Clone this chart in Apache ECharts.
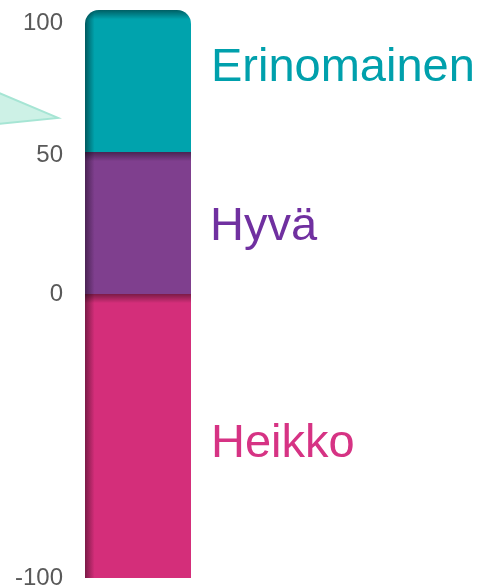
<!DOCTYPE html>
<html>
<head>
<meta charset="utf-8">
<script src="https://cdn.jsdelivr.net/npm/echarts@6/dist/echarts.min.js"></script>
<style>
html,body{margin:0;padding:0;background:#fff;}
#c{width:482px;height:586px;}
</style>
</head>
<body>
<div id="c"></div>
<script>
// ---- data ----
var categories = ['Arvio'];
var seriesNames = ['Heikko', 'Hyvä', 'Erinomainen'];
var heikko = [-100];
var hyva = [50];
var erinomainen = [50];
var tickLabels = [-100, 0, 50, 100];
var calloutValue = 62;

// ---- styles ----
var baseColors = ['#d42e7a', '#7f3f8e', '#00a3ad'];
var darkColors = ['#7a1a46', '#4a2354', '#00595e'];
var textColors = ['#d63384', '#7030a0', '#00a0ac'];
var values = [heikko, hyva, erinomainen];

function hGrad(i) {
  return new echarts.graphic.LinearGradient(0, 0, 1, 0, [
    {offset: 0, color: darkColors[i]},
    {offset: 0.09, color: baseColors[i]},
    {offset: 1, color: baseColors[i]}
  ]);
}
function vShade(frac) {
  return new echarts.graphic.LinearGradient(0, 0, 0, 1, [
    {offset: 0, color: 'rgba(0,0,0,0.42)'},
    {offset: frac, color: 'rgba(0,0,0,0)'},
    {offset: 1, color: 'rgba(0,0,0,0)'}
  ]);
}
var shadeFrac = [0.032, 0.065, 0.065];
var labelOffsets = [[1, 8], [0, 4], [1, -13]];
var radii = [[0,0,0,0], [0,0,0,0], [14,14,0,0]];

var series = [];
seriesNames.forEach(function (name, i) {
  series.push({
    name: name,
    type: 'bar',
    stack: 'main',
    barWidth: '100%',
    data: values[i],
    itemStyle: {color: hGrad(i), borderRadius: radii[i]},
    label: {
      show: true,
      position: 'right',
      distance: 19,
      offset: labelOffsets[i],
      formatter: name,
      color: textColors[i],
      fontSize: 47,
      fontFamily: 'Liberation Sans, Arial, sans-serif'
    },
    emphasis: {disabled: true},
    z: 2
  });
});
seriesNames.forEach(function (name, i) {
  series.push({
    name: name + '_shade',
    type: 'bar',
    stack: 'shade',
    barWidth: '100%',
    barGap: '-100%',
    data: values[i],
    silent: true,
    itemStyle: {color: vShade(shadeFrac[i]), borderRadius: radii[i]},
    emphasis: {disabled: true},
    z: 3
  });
});

var chart = echarts.init(document.getElementById('c'), null, {renderer: 'canvas'});
chart.setOption({
  animation: false,
  backgroundColor: '#ffffff',
  grid: {left: 85, right: 291, top: 10, bottom: 8, containLabel: false, outerBoundsMode: 'none'},
  xAxis: {
    type: 'category',
    data: categories,
    show: false
  },
  yAxis: {
    type: 'value',
    min: -100,
    max: 100,
    interval: 50,
    axisLine: {show: false},
    axisTick: {show: false},
    splitLine: {show: false},
    axisLabel: {
      margin: 22,
      fontSize: 24,
      color: '#595959',
      fontFamily: 'Liberation Sans, Arial, sans-serif',
      hideOverlap: false,
      formatter: function (v) {
        if (tickLabels.indexOf(v) < 0) return '';
        if (v === 100) return '{t|' + v + '}';
        if (v === 50) return '{m|' + v + '}';
        return String(v);
      },
      rich: {
        t: {padding: [26, 0, 0, 0], fontSize: 24, color: '#595959'},
        m: {padding: [6, 0, 0, 0], fontSize: 24, color: '#595959'}
      }
    }
  },
  series: series
});

var tip = chart.convertToPixel({yAxisIndex: 0}, calloutValue);
chart.setOption({
  graphic: [{
    type: 'polygon',
    shape: {points: [[-20, tip - 33], [58, tip], [-20, tip + 8]]},
    style: {fill: '#cdf1e6', stroke: '#a6e5d4', lineWidth: 2},
    z: 1,
    silent: true
  }]
});
</script>
</body>
</html>
